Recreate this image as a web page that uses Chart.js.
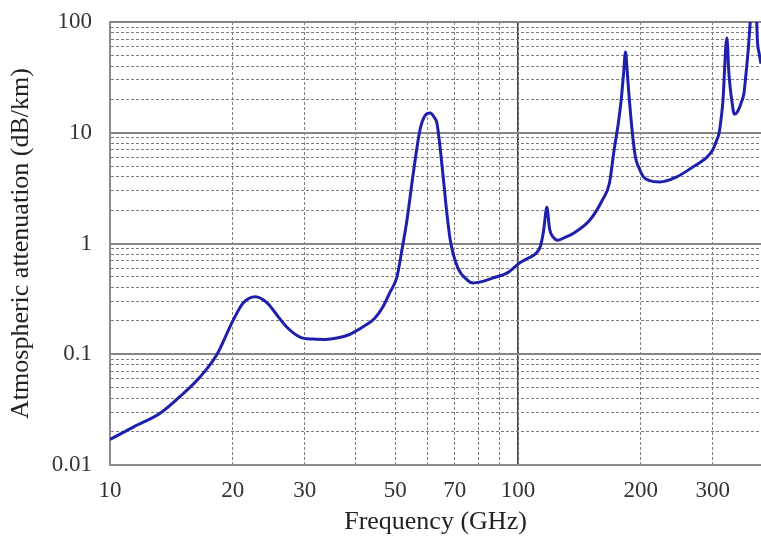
<!DOCTYPE html>
<html>
<head>
<meta charset="utf-8">
<script src="https://cdn.jsdelivr.net/npm/chart.js@4.4.1/dist/chart.umd.min.js"></script>
<style>
  html, body { margin: 0; padding: 0; background: #fff; }
</style>
</head>
<body>
<canvas id="attChart" width="761" height="539"></canvas>
<script>
// frequency (GHz) and specific attenuation (dB/km)
const freqGHz = [
  10, 11.4, 13.3, 15.1, 16.6, 18.3, 20, 21.2, 22.7, 24.3, 25.8, 27.1, 29.2, 31.5, 33.7,
  36, 38.5, 42, 44.5, 46.7, 48.5, 50.5, 52, 53.3, 55.4, 57.5, 59.2, 60.9, 62.3, 63.3,
  65.4, 66.8, 68.2, 71.1, 75, 77.6, 81, 87, 93.9, 101, 106, 110.9, 113.5, 115.5, 117.7,
  119.5, 122, 124.9, 130, 136.8, 150, 161, 167.5, 172, 176, 179, 181.5, 183.4, 185, 186.5,
  190.7, 194, 197.5, 203, 210, 222, 245, 268, 290, 300, 307, 311, 315, 318, 321,
  323, 325, 326.5, 328, 331, 334, 339, 345, 352, 358, 363, 366.6, 370.8, 376, 380,
  384, 386, 390, 394
];
const attenDbKm = [
  0.017, 0.022, 0.0295, 0.044, 0.062, 0.10, 0.20, 0.29, 0.33, 0.29, 0.22, 0.176, 0.143, 0.137, 0.136,
  0.14, 0.15, 0.18, 0.21, 0.27, 0.36, 0.50, 0.9, 1.53, 4.35, 10.6, 14.3, 15.1, 13.8, 12.1,
  4.35, 2.0, 1.08, 0.61, 0.47, 0.44, 0.45, 0.49, 0.54, 0.67, 0.74, 0.82, 0.95, 1.3, 2.12,
  1.35, 1.14, 1.07, 1.13, 1.24, 1.63, 2.47, 3.5, 7.0, 12, 19.8, 35, 53.6, 38, 25,
  9.9, 6.0, 4.9, 4.0, 3.7, 3.6, 4.0, 4.9, 6.0, 7.0, 8.6, 9.9, 14, 19.8, 39,
  60, 72, 60, 39, 26, 19.8, 14.7, 15.5, 18.5, 23, 38, 56, 100, 200, 260,
  120, 69, 52, 42
];

const xGridTicks = [10, 20, 30, 40, 50, 60, 70, 80, 90, 100, 200, 300];
const xLabelTicks = [10, 20, 30, 50, 70, 100, 200, 300];
const yDecades = [0.01, 0.1, 1, 10, 100];
const yLabels = ['0.01', '0.1', '1', '10', '100'];

const yMinorTicks = [];
yDecades.forEach((d, i) => {
  const last = i === yDecades.length - 1 ? 1 : 9;
  for (let k = 1; k <= last; k++) yMinorTicks.push(d * k);
});

const serif = "'Liberation Serif', 'Times New Roman', serif";

function fixTicks(values) {
  return scale => { scale.ticks = values.map(v => ({ value: v })); };
}

new Chart(document.getElementById('attChart'), {
  type: 'line',
  data: {
    datasets: [{
      data: freqGHz.map((f, i) => ({ x: f, y: attenDbKm[i] })),
      borderColor: '#1f1fac',
      borderWidth: 3,
      pointRadius: 0,
      cubicInterpolationMode: 'monotone',
      fill: false
    }]
  },
  options: {
    responsive: false,
    animation: false,
    layout: { padding: { top: 22, right: 0, bottom: 0, left: 0 } },
    plugins: {
      legend: { display: false },
      tooltip: { enabled: false }
    },
    scales: {
      x: {
        type: 'logarithmic',
        min: 10,
        max: 394,
        afterBuildTicks: fixTicks(xGridTicks),
        afterFit: s => { s.height = 74; },
        grid: { color: '#7e7e7e', lineWidth: 1, drawTicks: false },
        border: { display: true, color: '#8c8c8c', width: 2, dash: [3, 2] },
        ticks: {
          autoSkip: false,
          maxRotation: 0,
          padding: 12,
          color: '#333',
          font: { family: serif, size: 23 },
          callback: v => xLabelTicks.includes(v) ? String(v) : ''
        },
        title: {
          display: true,
          text: 'Frequency (GHz)',
          color: '#222',
          font: { family: serif, size: 26 },
          padding: { top: 0, bottom: 1 }
        }
      },
      x2: {
        type: 'logarithmic',
        position: 'bottom',
        min: 10,
        max: 394,
        afterBuildTicks: fixTicks([100]),
        afterFit: s => { s.height = 0; },
        grid: { color: '#444', lineWidth: 1.5, drawTicks: false },
        border: { display: false },
        ticks: { display: false }
      },
      y: {
        type: 'logarithmic',
        min: 0.01,
        max: 100,
        afterBuildTicks: fixTicks(yMinorTicks),
        afterFit: s => { s.width = 110; s.paddingTop = 0; s.paddingBottom = 0; },
        grid: { color: '#7e7e7e', lineWidth: 1, drawTicks: false },
        border: { display: true, color: '#8c8c8c', width: 2, dash: [3, 2] },
        ticks: {
          autoSkip: false,
          padding: 18,
          color: '#333',
          font: { family: serif, size: 23 },
          callback: v => {
            const i = yDecades.indexOf(v);
            return i >= 0 ? yLabels[i] : '';
          }
        },
        title: {
          display: true,
          text: 'Atmospheric attenuation (dB/km)',
          color: '#222',
          font: { family: serif, size: 26 },
          padding: { top: 6, bottom: 0 }
        }
      },
      y2: {
        type: 'logarithmic',
        position: 'left',
        min: 0.01,
        max: 100,
        afterBuildTicks: fixTicks(yDecades),
        afterFit: s => { s.width = 0; s.paddingTop = 0; s.paddingBottom = 0; },
        grid: { color: '#858585', lineWidth: 2, drawTicks: false },
        border: { display: false },
        ticks: { display: false }
      }
    }
  }
});
</script>
</body>
</html>
